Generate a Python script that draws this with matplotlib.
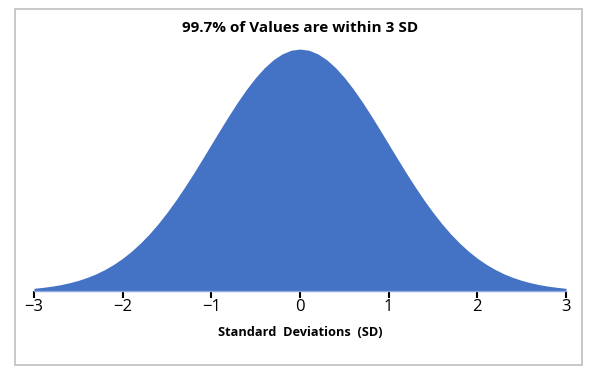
import matplotlib.pyplot as plt
from matplotlib.patches import Rectangle

# curve heights (SD steps of 0.1)
sd = [-3.0, -2.9, -2.8, -2.7, -2.6, -2.5, -2.4, -2.3, -2.2, -2.1,
      -2.0, -1.9, -1.8, -1.7, -1.6, -1.5, -1.4, -1.3, -1.2, -1.1,
      -1.0, -0.9, -0.8, -0.7, -0.6, -0.5, -0.4, -0.3, -0.2, -0.1,
      0.0, 0.1, 0.2, 0.3, 0.4, 0.5, 0.6, 0.7, 0.8, 0.9,
      1.0, 1.1, 1.2, 1.3, 1.4, 1.5, 1.6, 1.7, 1.8, 1.9,
      2.0, 2.1, 2.2, 2.3, 2.4, 2.5, 2.6, 2.7, 2.8, 2.9, 3.0]
density = [0.0044, 0.0060, 0.0079, 0.0104, 0.0136, 0.0175, 0.0224, 0.0283, 0.0355, 0.0440,
           0.0540, 0.0656, 0.0790, 0.0940, 0.1109, 0.1295, 0.1497, 0.1714, 0.1942, 0.2179,
           0.2420, 0.2661, 0.2897, 0.3123, 0.3332, 0.3521, 0.3683, 0.3814, 0.3910, 0.3970,
           0.3989, 0.3970, 0.3910, 0.3814, 0.3683, 0.3521, 0.3332, 0.3123, 0.2897, 0.2661,
           0.2420, 0.2179, 0.1942, 0.1714, 0.1497, 0.1295, 0.1109, 0.0940, 0.0790, 0.0656,
           0.0540, 0.0440, 0.0355, 0.0283, 0.0224, 0.0175, 0.0136, 0.0104, 0.0079, 0.0060, 0.0044]
ticks = [-3, -2, -1, 0, 1, 2, 3]
tick_labels = ['\u22123', '\u22122', '\u22121', '0', '1', '2', '3']

plt.rcParams['font.family'] = ['Open Sans', 'DejaVu Sans']

fig = plt.figure(figsize=(6, 3.75), dpi=100)
fig.patches.append(Rectangle((0.025, 0.027), 0.945, 0.949, transform=fig.transFigure,
                             fill=False, edgecolor='#BFBFBF', linewidth=1.2))

ax = fig.add_axes([0.0567, 0.224, 0.8866, 0.656])
ax.fill_between(sd, density, 0, color='#4472C4', linewidth=0)
ax.set_xlim(-3, 3)
ax.set_ylim(0, 0.4056)

for s in ['top', 'left', 'right']:
    ax.spines[s].set_visible(False)
ax.spines['bottom'].set_color('#8EA9DB')
ax.spines['bottom'].set_linewidth(1)
ax.set_yticks([])
ax.set_xticks(ticks)
ax.set_xticklabels(tick_labels, fontsize=12)
ax.tick_params(axis='x', length=5, width=1.5, color='black', pad=1)

fig.text(0.5, 0.925, '99.7% of Values are within 3 SD', ha='center', va='center',
         fontsize=11, fontweight='bold')
fig.text(0.5, 0.112, 'Standard  Deviations  (SD)', ha='center', va='center',
         fontsize=9.2, fontweight='bold')

fig.savefig('out.png', dpi=100)
